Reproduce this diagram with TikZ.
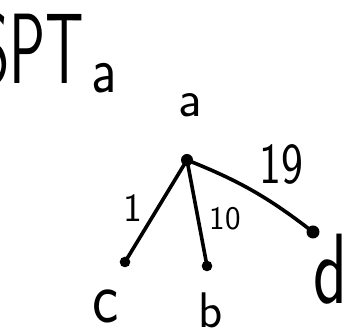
\documentclass[tikz,border=0pt]{standalone}
\usepackage{fontspec}
\begin{document}
\begin{tikzpicture}[x=1pt,y=-1pt,
  bigdot/.style={circle,fill=black,inner sep=0pt,minimum size=12pt},
  smalldot/.style={circle,draw=black,fill=black,line width=1.5pt,inner sep=0pt,minimum size=9pt},
  edge/.style={line width=3.6pt,line cap=round},
  lbl/.style={inner sep=0pt,font=\sffamily}]
\useasboundingbox (0,0) rectangle (349,336);
% title
\node[lbl,anchor=base west,xscale=0.6,transform shape] (title) at (-22,84)
  {\fontsize{100}{100}\selectfont SPT};
\node[lbl,anchor=base,xscale=0.85,transform shape] (sub) at (104,93) {\fontsize{66}{66}\selectfont a};
% vertices
\node[bigdot] (A) at (187,160) {};
\node[smalldot] (C) at (125,262) {};
\node[smalldot] (B) at (207,266) {};
\node[bigdot,minimum size=13pt] (D) at (313,232) {};
% edges
\draw[edge] (A.center) -- (C.center);
\draw[edge] (A.center) -- (B.center);
\draw[edge] (A.center) to[bend left=8] (D.center);
% vertex labels
\node[lbl,anchor=base] (la) at (190,117) {\fontsize{52}{52}\selectfont a};
\node[lbl,anchor=base,xscale=0.85,transform shape] (lc) at (106,323) {\fontsize{74}{74}\selectfont c};
\node[lbl,anchor=base] (lb) at (211,328) {\fontsize{50}{50}\selectfont b};
\node[lbl,anchor=base,xscale=0.7,transform shape] (ld) at (330,304) {\fontsize{100}{100}\selectfont d};
% edge labels
\node[lbl,anchor=base] (w1) at (133,222) {\fontsize{40}{40}\selectfont 1};
\node[lbl,anchor=base] (w10) at (225,230) {\fontsize{33}{33}\selectfont 10};
\node[lbl,anchor=base,xscale=0.8,transform shape] (w19) at (281,184) {\fontsize{58}{58}\selectfont 19};
\end{tikzpicture}
\end{document}
